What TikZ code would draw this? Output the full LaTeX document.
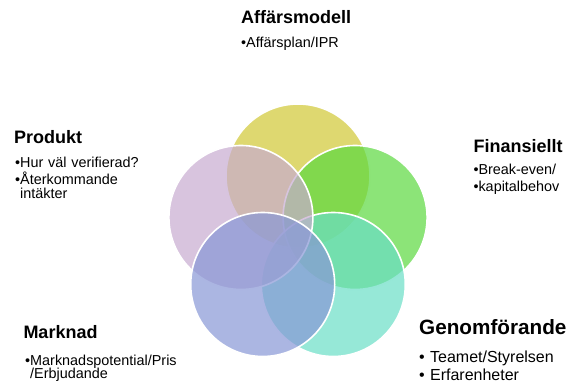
\documentclass[tikz,border=0pt]{standalone}
\usepackage{fontspec}
\setmainfont{Liberation Sans}
\usepackage{tikz}
\usetikzlibrary{shapes,positioning}
\definecolor{affarcol}{RGB}{208,199,51}
\definecolor{fincol}{RGB}{91,216,62}
\definecolor{genomcol}{RGB}{105,222,198}
\definecolor{markcol}{RGB}{136,151,214}
\definecolor{prodcol}{RGB}{199,171,208}
\newcommand{\tightlines}{\lineskiplimit=-6pt\relax}
\tikzstyle{ring} = [circle, draw=white, line width=1.6pt, fill opacity=0.7,
    minimum size=144pt, inner sep=0pt]
\tikzstyle{heading} = [anchor=base west, inner sep=0pt,
    font=\fontsize{18}{20}\selectfont\bfseries]
\tikzstyle{points} = [anchor=base west, inner sep=0pt, text width=160pt, align=left,
    font={\fontsize{14.4}{13.4}\selectfont\tightlines}]

\begin{document}
\begin{tikzpicture}[x=1pt, y=1pt]
        \useasboundingbox (0,0) rectangle (573,385);
        % Place circles
        \node [ring, fill=affarcol] (affar) at (298,209) {};
        \node [ring, fill=fincol] (fin) at (355.1,167.5) {};
        \node [ring, fill=genomcol] (genom) at (333.3,100.5) {};
        \node [ring, fill=prodcol] (prod) at (240.9,167.5) {};
        \node [ring, fill=markcol] (mark) at (262.7,100.5) {};
        % Place texts
        \node [heading] (affartitle) at (241,361.7) {Affärsmodell};
        \node [points] (affarlist) at (241,337.3) {•Affärsplan/IPR};
        \node [heading] (prodtitle) at (14,241) {Produkt};
        \node [points] (prodlist) at (15,217.7)
            {•Hur väl verifierad?\\[4.2pt]•Återkommande\\\hphantom{•}intäkter};
        \node [heading] (fintitle) at (473.3,232.3) {Finansiellt};
        \node [points, text width=95pt] (finlist) at (473.3,210)
            {•Break-even/\\[3.2pt]•kapitalbehov};
        \node [heading] (marktitle) at (23.3,46) {Marknad};
        \node [points] (marklist) at (25,19.6)
            {•Marknadspotential/Pris\\\hphantom{•}/Erbjudande};
        \node [heading, font=\fontsize{20.7}{23}\selectfont\bfseries] (genomtitle)
            at (419,50) {Genomförande};
        \node [points, text width=150pt, font={\fontsize{16}{18}\selectfont\tightlines}]
            (genomlist) at (419,22) {• Teamet/Styrelsen\\• Erfarenheter};
    \end{tikzpicture}
\end{document}
